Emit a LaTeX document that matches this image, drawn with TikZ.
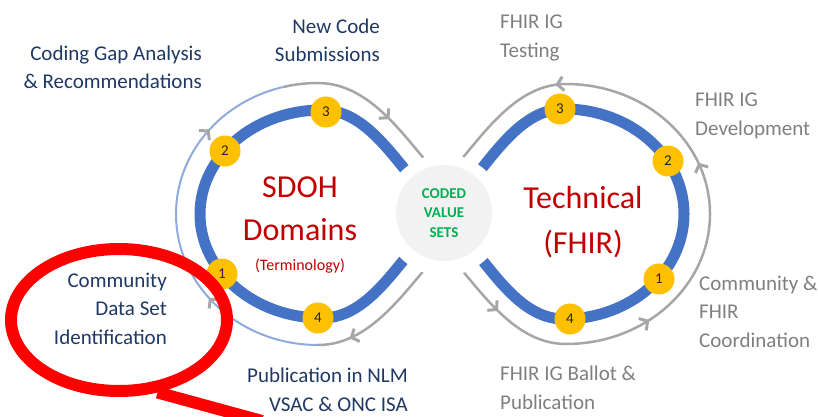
\documentclass[tikz,border=0pt]{standalone}
\usepackage{fontspec}
\setmainfont{Carlito}
\usetikzlibrary{arrows.meta,decorations.markings,shapes.geometric}
\definecolor{bandblue}{HTML}{4472C4}
\definecolor{lineblue}{HTML}{8FAADC}
\definecolor{linegray}{HTML}{A6A6A6}
\definecolor{badgeyellow}{HTML}{FFC000}
\definecolor{navytext}{HTML}{1F3864}
\definecolor{graytext}{HTML}{7F7F7F}
\definecolor{titlered}{HTML}{C00000}
\definecolor{codedgreen}{HTML}{00B050}
\definecolor{hubgray}{HTML}{F2F2F2}

\begin{document}
\begin{tikzpicture}[x=1pt,y=1pt]
   \useasboundingbox (0,0) rectangle (818,416);
   \clip (0,0) rectangle (818,416);
   \tikzstyle{band}=[draw=bandblue, line width=11pt]
   \tikzstyle{flow}=[draw=linegray, line width=2.5pt]
   \tikzstyle{lightflow}=[draw=lineblue, line width=2pt]
   \tikzset{flowtip/.style={postaction={decorate, decoration={markings,
      mark=at position #1 with {\arrow{Straight Barb[length=6pt, width=14pt, color=linegray, line width=3pt]}}}}}}
   \tikzstyle{badge}=[circle, fill=badgeyellow, minimum size=31pt, inner sep=0pt, text=black!85, font=\fontsize{15}{15}\selectfont]
   \tikzstyle{steplabel}=[inner sep=0pt, text=navytext, align=right, anchor=base east, font=\fontsize{21}{28.5}\selectfont]
   \tikzstyle{fhirlabel}=[inner sep=0pt, text=graytext, align=left, anchor=base west, font=\fontsize{21}{28.5}\selectfont]
   \tikzstyle{title}=[inner sep=0pt, text=titlered, align=center, anchor=base]
   \tikzstyle{callout}=[draw=red, line width=12pt]
   % outer flow, terminology loop
   \draw[flow, flowtip=.8] (443,167) .. controls (410,134) and (375,71) .. (318,71) coordinate (lbot);
   \draw[lightflow, flowtip=.31, flowtip=.78] (lbot) arc[start angle=270, end angle=104, x radius=142, y radius=131] coordinate (ltop);
   \draw[flow, flowtip=.59] (ltop) arc[start angle=104, end angle=90, x radius=142, y radius=131] .. controls (375,333) and (410,269) .. (443,236);
   % outer flow, FHIR loop
   \draw[flow, flowtip=.11, flowtip=.33, flowtip=.57, flowtip=.8] (443,167) .. controls (476,134) and (510,72) .. (566,72)
      arc[start angle=-90, end angle=90, x radius=144, y radius=130] .. controls (510,332) and (476,269) .. (443,236);
   % figure eight
   \draw[band] (322,306) arc[start angle=90, end angle=270, x radius=122, y radius=104]
      .. controls (372,98) and (400,159) .. (443,202) .. controls (486,245) and (514,307) .. (564,307)
      arc[start angle=90, end angle=-90, x radius=120, y radius=105]
      .. controls (514,97) and (486,159) .. (443,202) .. controls (400,245) and (372,306) .. (322,306) -- cycle;
   \node[circle, fill=white, minimum size=122pt] (halo) at (444,201) {};
   \node[circle, fill=hubgray, minimum size=96pt, align=center, text=codedgreen, font=\fontsize{15}{19.5}\selectfont\bfseries] (hub) at (444,203) {CODED\\VALUE\\SETS};
   \foreach \n/\x/\y in {1/222/142, 2/225/265, 3/326/304, 4/318/98} {
       \node[badge] (sdoh\n) at (\x,\y) {\n};
   }
   \foreach \n/\x/\y in {1/659/137, 2/668/255, 3/560/307, 4/570/97} {
       \node[badge] (fhir\n) at (\x,\y) {\n};
   }
   \node[title, font=\fontsize{32}{43}\selectfont] (sdoh) at (300,176) {SDOH\\Domains};
   \node[title, font=\fontsize{16}{16}\selectfont] (terminology) at (300,146) {(Terminology)};
   \node[title, font=\fontsize{32}{45}\selectfont] (technical) at (583,163) {Technical\\(FHIR)};
   \node[steplabel] (gap) at (202,327) {Coding Gap Analysis\\\& Recommendations};
   \node[steplabel] (submit) at (380,354) {New Code\\Submissions};
   \node[steplabel] (community) at (167,72) {Community\\Data Set\\Identification};
   \node[steplabel] (publish) at (408,5) {Publication in NLM\\VSAC \& ONC ISA};
   \node[fhirlabel] (testing) at (500,359) {FHIR IG\\Testing};
   \node[fhirlabel] (develop) at (695,281) {FHIR IG\\Development};
   \node[fhirlabel] (coord) at (699,69) {Community \&\\FHIR\\Coordination};
   \node[fhirlabel] (ballot) at (500,7) {FHIR IG Ballot \&\\Publication};
   % callout round the first step
   \node[callout, ellipse, minimum width=216pt, minimum height=142pt] (ring) at (119,96) {};
   \coordinate (tailend) at (262,-5);
   \draw[callout] (ring.-62) -- (tailend);
\end{tikzpicture}
\end{document}
